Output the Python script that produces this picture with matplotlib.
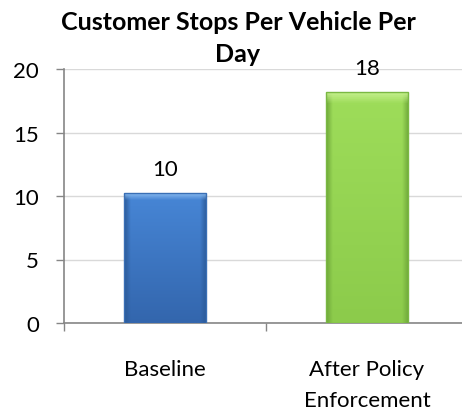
import numpy as np
import matplotlib.pyplot as plt
from matplotlib.colors import to_rgb

plt.rcParams['font.family'] = ['Lato', 'DejaVu Sans']

categories = ["Baseline", "After Policy\nEnforcement"]
values = [10.2, 18.2]
value_labels = ["10", "18"]
title_lines = ["Customer Stops Per Vehicle Per", "Day"]

W, H = 462, 414
fig = plt.figure(figsize=(W / 100, H / 100), dpi=100)
# axes runs a bit past the right edge, like the original
ax = fig.add_axes([64 / W, (H - 324) / H, 404 / W, (324 - 70) / H])


def bevel(top, bottom, light, dark):
    # small bevelled fill: vertical gradient, darker sides, light top band
    n = 120
    t = np.linspace(0, 1, n)[:, None, None]
    img = (1 - t) * np.array(to_rgb(top)) + t * np.array(to_rgb(bottom))
    img = np.repeat(img, n, axis=1)
    u = np.linspace(0, 1, n)
    side = np.clip(1 - np.minimum(u, 1 - u) / 0.08, 0, 1)[None, :, None]
    img = img * (1 - side) + np.array(to_rgb(dark)) * side
    band = np.clip(1 - t / 0.05, 0, 1)
    img = img * (1 - band) + np.array(to_rgb(light)) * band
    return img


x = np.arange(len(categories))
bars = ax.bar(x, values, width=0.41, color="none", edgecolor="none", zorder=3)

fills = [("#4786d6", "#3366ad", "#86b8ee", "#2b5a98"),
         ("#9edd5a", "#8ccb4b", "#c6f08e", "#6fa83a")]
edges = ["#3a6fb5", "#7ab843"]
for b, f, ec in zip(bars, fills, edges):
    x0, w, h = b.get_x(), b.get_width(), b.get_height()
    im = ax.imshow(bevel(*f), aspect="auto", extent=[x0, x0 + w, 0, h], zorder=3)
    im.set_clip_path(b)
    ax.bar(x0 + w / 2, h, width=w, color="none", edgecolor=ec, linewidth=1.0, zorder=4)

for b, lab in zip(bars, value_labels):
    ax.text(b.get_x() + b.get_width() / 2, b.get_height() + 1.1, lab,
            ha="center", va="bottom", fontsize=16, color="black", zorder=5)

ax.set_xlim(-0.5, 1.5)
ax.set_ylim(0, 20)
ax.set_yticks([0, 5, 10, 15, 20])
ax.yaxis.grid(True, color="#d9d9d9", linewidth=1, zorder=0)
ax.set_axisbelow(True)

ax.set_xticks(x)
ax.set_xticklabels(categories, fontsize=16, linespacing=1.65)
ax.set_xticks([-0.5, 0.5, 1.5], minor=True)
ax.tick_params(axis="x", which="major", length=0, pad=26)
ax.tick_params(axis="x", which="minor", length=6, color="#868686", width=1)
ax.tick_params(axis="y", length=6, color="#868686", width=1, pad=12, labelsize=16)

for s in ["top", "right"]:
    ax.spines[s].set_visible(False)
for s in ["left", "bottom"]:
    ax.spines[s].set_color("#868686")
    ax.spines[s].set_linewidth(1.2)

# title written as two lines so "Day" sits alone under the first line
for line, ypix in zip(title_lines, [22, 55]):
    fig.text(238 / W, 1 - ypix / H, line, ha="center", va="center",
             fontsize=18, fontweight="bold")

fig.savefig("out.png", dpi=100)
